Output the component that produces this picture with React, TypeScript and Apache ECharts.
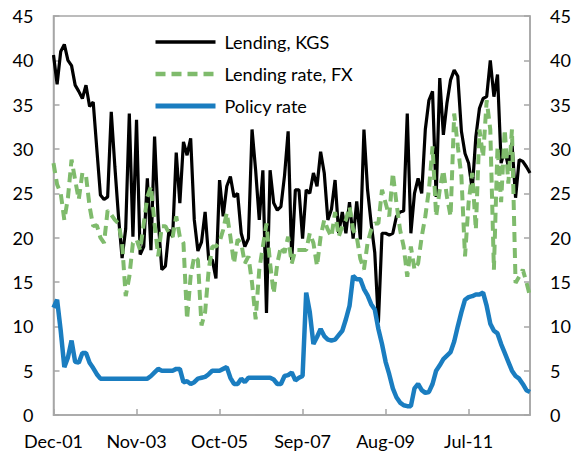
import React, { useEffect, useRef } from "react";
import * as echarts from "echarts";

const monthNames = ["Jan", "Feb", "Mar", "Apr", "May", "Jun", "Jul", "Aug", "Sep", "Oct", "Nov", "Dec"];
// Monthly from Dec-01 to Dec-12
const categories: string[] = [];
for (let i = 0; i < 133; i++) {
  const m = (11 + i) % 12;
  const y = 2001 + Math.floor((11 + i) / 12);
  categories.push(`${monthNames[m]}-${String(y % 100).padStart(2, "0")}`);
}

const seriesNames = ["Lending, KGS", "Lending rate, FX", "Policy rate"];

const lendingKGS = [
  40.6, 37.3, 41.0, 41.8, 40.0, 39.4, 37.2, 36.5, 35.7, 37.2,
  34.8, 35.3, 30.0, 24.8, 24.3, 24.6, 34.2, 28.0, 22.4, 17.7,
  21.0, 34.0, 20.1, 33.3, 18.1, 19.0, 26.7, 18.6, 31.4, 22.0,
  16.4, 16.8, 20.9, 20.1, 29.6, 23.9, 30.8, 29.3, 31.2, 22.0,
  18.5, 19.5, 22.9, 17.5, 17.5, 15.4, 26.5, 22.4, 25.8, 26.9,
  24.6, 25.0, 20.5, 19.0, 19.9, 32.2, 27.6, 22.0, 27.6, 11.5,
  27.6, 23.9, 23.1, 23.5, 27.0, 32.0, 17.5, 25.4, 25.4, 19.9,
  25.4, 25.0, 27.3, 25.8, 29.7, 27.3, 22.0, 23.2, 26.5, 20.5,
  22.9, 20.5, 24.0, 19.9, 24.1, 19.8, 32.2, 25.4, 21.6, 18.3,
  10.4, 20.5, 20.5, 20.3, 20.5, 22.4, 22.9, 23.0, 34.0, 20.5,
  25.0, 26.7, 25.0, 32.2, 35.5, 36.5, 24.6, 38.0, 31.6, 35.2,
  37.8, 38.9, 38.2, 32.0, 29.5, 28.4, 25.4, 31.4, 34.6, 35.7,
  35.9, 40.0, 35.9, 38.4, 28.4, 29.9, 28.0, 30.7, 24.5, 28.8,
  28.6, 28.0, 27.3,
];

const lendingRateFX = [
  28.4, 26.0, 25.0, 22.0, 24.5, 28.8, 26.5, 24.3, 27.3, 27.0,
  23.5, 21.3, 21.4, 20.0, 19.4, 23.1, 22.6, 22.0, 21.6, 19.4,
  13.4, 15.6, 19.4, 19.8, 18.6, 21.6, 24.6, 25.8, 21.6, 17.9,
  21.3, 21.3, 20.5, 20.1, 22.4, 20.1, 19.4, 10.8, 15.7, 17.9,
  17.5, 10.1, 11.6, 16.4, 19.0, 19.0, 19.5, 20.9, 22.8, 20.1,
  17.1, 19.8, 19.4, 17.1, 17.9, 14.9, 10.8, 16.4, 19.0, 21.6,
  17.1, 13.7, 17.1, 19.0, 18.3, 20.1, 17.1, 18.6, 18.6, 18.6,
  18.6, 20.5, 19.4, 16.8, 20.1, 22.0, 20.9, 20.1, 22.9, 20.1,
  21.3, 22.0, 23.5, 20.9, 20.1, 17.6, 16.4, 19.4, 20.9, 21.6,
  21.6, 25.4, 23.9, 22.4, 27.3, 23.9, 20.9, 19.0, 15.6, 19.0,
  16.4, 17.1, 20.1, 22.4, 25.4, 30.3, 22.4, 25.4, 27.6, 24.6,
  22.4, 34.0, 30.3, 26.9, 17.9, 24.0, 27.3, 20.9, 32.2, 29.1,
  35.5, 32.2, 16.4, 30.3, 24.0, 32.2, 26.1, 32.2, 14.9, 15.6,
  16.4, 15.0, 13.4,
];

const policyRate = [
  12.1, 13.0, 9.5, 5.4, 6.5, 8.4, 6.0, 5.9, 7.0, 7.0,
  5.9, 5.3, 4.6, 4.1, 4.1, 4.1, 4.1, 4.1, 4.1, 4.1,
  4.1, 4.1, 4.1, 4.1, 4.1, 4.1, 4.1, 4.4, 4.8, 5.2,
  5.0, 5.0, 5.0, 5.0, 5.2, 5.2, 3.7, 3.8, 3.5, 3.7,
  4.1, 4.2, 4.3, 4.6, 5.0, 5.0, 5.0, 5.2, 5.4, 4.2,
  3.5, 3.5, 4.1, 3.7, 4.2, 4.2, 4.2, 4.2, 4.2, 4.2,
  4.2, 4.0, 3.5, 3.5, 4.4, 4.5, 4.8, 3.9, 4.2, 4.4,
  13.8, 11.6, 8.0, 8.8, 9.7, 8.9, 8.5, 8.4, 8.5, 9.0,
  9.5, 10.8, 12.3, 15.7, 15.3, 15.3, 14.2, 13.5, 12.5, 11.9,
  9.7, 8.0, 6.0, 4.6, 3.0, 2.0, 1.4, 1.1, 1.0, 1.0,
  3.0, 3.5, 2.8, 2.5, 2.6, 3.5, 5.0, 5.6, 6.3, 6.7,
  7.1, 8.3, 10.0, 11.6, 13.0, 13.3, 13.4, 13.6, 13.6, 13.8,
  12.3, 10.3, 9.5, 9.2, 8.0, 7.0, 6.0, 5.0, 4.4, 4.1,
  3.5, 2.8, 2.6,
];

const FONT = "Lato";
const AXIS_COLOR = "#a6a6a6";
const COLORS = ["#000000", "#7fbb6c", "#1a7dc0"];
const WIDTHS = [3.2, 4, 4.5];

export default function App() {
  const ref = useRef<HTMLDivElement>(null);
  useEffect(() => {
    if (!ref.current) return;
    const chart = echarts.init(ref.current, undefined, { renderer: "svg" });
    const yAxisCommon = {
      type: "value" as const,
      min: 0,
      max: 45,
      interval: 5,
      splitLine: { show: false },
      axisLine: { show: true, lineStyle: { color: AXIS_COLOR, width: 1.5 } },
      axisTick: { show: true, inside: true, length: 6, lineStyle: { color: AXIS_COLOR, width: 1.5 } },
    };
    chart.setOption({
      animation: false,
      textStyle: { fontFamily: FONT },
      grid: {
        left: 53.5,
        right: 47,
        top: 16,
        bottom: 41,
        show: true,
        borderColor: AXIS_COLOR,
        borderWidth: 1.5,
        backgroundColor: "transparent",
      },
      legend: {
        orient: "vertical",
        left: 153,
        top: 33,
        padding: 0,
        itemWidth: 60,
        itemHeight: 20,
        itemGap: 14,
        data: seriesNames.map((name, i) => ({
          name,
          lineStyle: { width: WIDTHS[i] + 0.5 },
        })),
        itemStyle: { opacity: 0 },
        textStyle: { fontFamily: FONT, fontSize: 18, color: "#000", padding: [0, 0, 0, 4] },
      },
      xAxis: {
        type: "category",
        data: categories,
        boundaryGap: false,
        axisLine: { show: true, lineStyle: { color: AXIS_COLOR, width: 1.5 } },
        axisTick: { show: true, inside: true, length: 6, interval: 22, lineStyle: { color: AXIS_COLOR, width: 1.5 } },
        axisLabel: { interval: 22, margin: 17, fontFamily: FONT, fontSize: 18, color: "#000" },
        splitLine: { show: false },
      },
      yAxis: [
        {
          ...yAxisCommon,
          position: "left",
          axisLabel: { margin: 20, fontFamily: FONT, fontSize: 18, color: "#000" },
        },
        {
          ...yAxisCommon,
          position: "right",
          axisLabel: { margin: 20, fontFamily: FONT, fontSize: 18, color: "#000" },
        },
      ],
      series: [
        {
          name: seriesNames[0],
          type: "line",
          data: lendingKGS,
          symbol: "none",
          yAxisIndex: 0,
          lineStyle: { color: COLORS[0], width: WIDTHS[0] },
          itemStyle: { color: COLORS[0] },
        },
        {
          name: seriesNames[1],
          type: "line",
          data: lendingRateFX,
          symbol: "none",
          yAxisIndex: 0,
          lineStyle: { color: COLORS[1], width: WIDTHS[1], type: [10, 6] },
          itemStyle: { color: COLORS[1] },
        },
        {
          name: seriesNames[2],
          type: "line",
          data: policyRate,
          symbol: "none",
          yAxisIndex: 0,
          lineStyle: { color: COLORS[2], width: WIDTHS[2] },
          itemStyle: { color: COLORS[2] },
        },
      ],
    });
    return () => chart.dispose();
  }, []);
  return (
    <div
      ref={ref}
      style={{ position: "fixed", left: 0, top: 0, width: 577, height: 456, background: "#fff" }}
    />
  );
}
